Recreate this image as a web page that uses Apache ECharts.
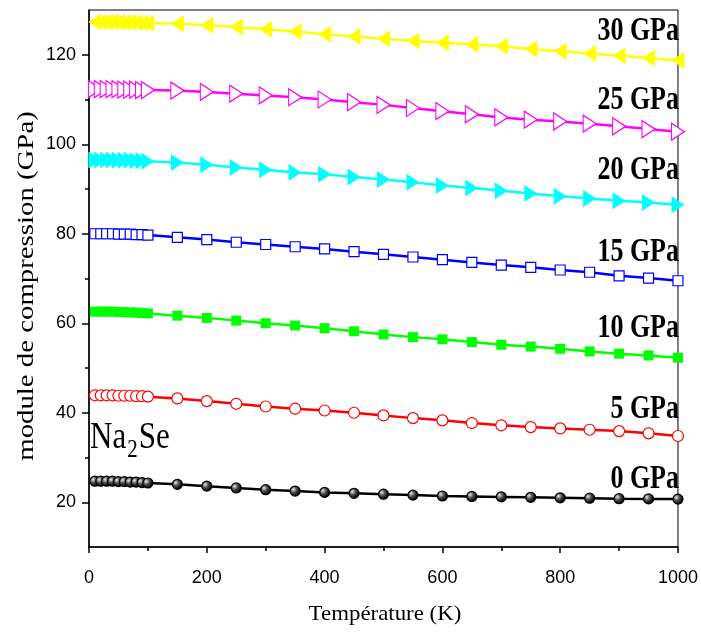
<!DOCTYPE html>
<html>
<head>
<meta charset="utf-8">
<script src="https://cdn.jsdelivr.net/npm/echarts@6/dist/echarts.min.js"></script>
<style>
  html, body { margin: 0; padding: 0; background: #fff; }
  #main { width: 701px; height: 636px; }
</style>
</head>
<body>
<div id="main"></div>
<script type="text/javascript">
    // temperatures (K)
    var temps = [10, 20, 30, 40, 50, 60, 70, 80, 90, 100,
                 150, 200, 250, 300, 350, 400, 450, 500, 550, 600,
                 650, 700, 750, 800, 850, 900, 950, 1000];

    var pressureNames = ['0 GPa', '5 GPa', '10 GPa', '15 GPa', '20 GPa', '25 GPa', '30 GPa'];

    // module de compression (GPa)
    var b0 = [24.7, 24.7, 24.7, 24.7, 24.6, 24.6, 24.5, 24.5, 24.4, 24.3,
              24.0, 23.6, 23.2, 22.8, 22.5, 22.2, 22.0, 21.8, 21.6, 21.4,
              21.3, 21.2, 21.1, 21.0, 20.9, 20.8, 20.75, 20.7];
    var b5 = [43.9, 43.9, 43.9, 43.9, 43.8, 43.8, 43.8, 43.7, 43.7, 43.6,
              43.2, 42.6, 42.0, 41.4, 40.9, 40.5, 40.0, 39.4, 38.8, 38.3,
              37.7, 37.2, 36.8, 36.5, 36.2, 35.9, 35.4, 34.8];
    var b10 = [62.6, 62.6, 62.6, 62.6, 62.5, 62.5, 62.4, 62.4, 62.3, 62.2,
               61.7, 61.2, 60.6, 60.0, 59.5, 58.9, 58.2, 57.5, 56.9, 56.4,
               55.8, 55.2, 54.8, 54.3, 53.7, 53.2, 52.8, 52.3];
    var b15 = [80.0, 80.0, 80.0, 80.0, 79.9, 79.9, 79.9, 79.8, 79.8, 79.7,
               79.2, 78.7, 78.1, 77.6, 77.1, 76.6, 76.0, 75.4, 74.8, 74.2,
               73.6, 73.0, 72.5, 71.9, 71.4, 70.6, 70.1, 69.5];
    var b20 = [96.5, 96.5, 96.5, 96.5, 96.4, 96.4, 96.4, 96.3, 96.3, 96.2,
               95.9, 95.4, 94.8, 94.3, 93.7, 93.3, 92.7, 92.1, 91.5, 90.8,
               90.2, 89.6, 89.0, 88.4, 87.9, 87.4, 87.0, 86.5];
    var b25 = [112.3, 112.3, 112.3, 112.3, 112.3, 112.2, 112.2, 112.2, 112.1, 112.1,
               112.0, 111.7, 111.3, 110.9, 110.5, 110.0, 109.4, 108.8, 108.1, 107.4,
               106.7, 106.0, 105.5, 105.1, 104.6, 104.0, 103.4, 102.8];
    var b30 = [127.3, 127.3, 127.3, 127.3, 127.3, 127.2, 127.2, 127.2, 127.1, 127.1,
               126.9, 126.6, 126.2, 125.7, 125.2, 124.6, 124.1, 123.6, 123.1, 122.7,
               122.3, 121.9, 121.3, 120.8, 120.3, 119.8, 119.3, 118.7];

    var yMajor = [20, 40, 60, 80, 100, 120];
    var yMinor = [30, 50, 70, 90, 110];

    function pairs(vals){
        var out = [];
        for (var i = 0; i < temps.length; i++) out.push([temps[i], vals[i]]);
        return out;
    }

    var sphere = new echarts.graphic.RadialGradient(0.35, 0.35, 0.6, [
        {offset: 0, color: '#e8e8e8'},
        {offset: 0.45, color: '#555'},
        {offset: 1, color: '#000'}
    ]);

    function makeSeries(name, vals, color, symbol, size, filled, rotate){
        return {
            name: name,
            type: 'line',
            data: pairs(vals),
            symbol: symbol,
            symbolSize: size,
            symbolRotate: rotate || 0,
            showAllSymbol: true,
            clip: true,
            lineStyle: {color: color, width: 2.5},
            itemStyle: {
                color: filled === true ? color : (filled || '#fff'),
                borderColor: color,
                borderWidth: filled === true ? 0 : 1.2
            }
        };
    }

    var serif = 'Liberation Serif, Times New Roman, serif';
    var sans = 'Liberation Sans, Arial, sans-serif';

    // vertical centre of each pressure label, in px
    var labelY = [479, 409, 328, 252, 170, 100, 31];

    var graphics = [];
    for (var k = 0; k < pressureNames.length; k++){
        graphics.push({
            type: 'text', x: 679, y: labelY[k], scaleY: 1.27,
            style: {text: pressureNames[k], font: 'bold 26px ' + serif, fill: '#000',
                    align: 'right', verticalAlign: 'middle'}
        });
    }
    graphics.push({
        type: 'text', x: 90, y: 438, scaleY: 1.2,
        style: {
            text: 'Na{s|2}Se',
            rich: {s: {fontSize: 21, fontFamily: serif, padding: [20, 1, 0, 1]}},
            font: '31px ' + serif, fill: '#000', align: 'left', verticalAlign: 'middle'
        }
    });
    // axis titles
    graphics.push({
        type: 'text', x: 27, y: 286, rotation: Math.PI / 2, scaleX: 1.2,
        style: {text: 'module de compression (GPa)', font: '24px ' + serif, fill: '#000',
                align: 'center', verticalAlign: 'middle'}
    });
    graphics.push({
        type: 'text', x: 385, y: 614, scaleX: 1.04,
        style: {text: 'Température (K)', font: '22px ' + serif, fill: '#000',
                align: 'center', verticalAlign: 'middle'}
    });

    var myChart = echarts.init(document.getElementById('main'));
    var myOption = {
        animation: false,
        grid: {left: 89, right: 21, top: 10, bottom: 89, show: true, borderColor: '#000', borderWidth: 1},
        xAxis: {
            type: 'value', min: 0, max: 1000, interval: 200,
            axisLine: {lineStyle: {color: '#000', width: 1.5}},
            axisTick: {length: 6, lineStyle: {color: '#000', width: 1.5}},
            minorTick: {show: true, splitNumber: 2, length: 4, lineStyle: {color: '#000', width: 1.5}},
            axisLabel: {fontFamily: sans, fontSize: 18, color: '#000', margin: 22,
                        formatter: function(v){ return String(v); }},
            splitLine: {show: false}
        },
        yAxis: [{
            type: 'value', min: 10, max: 130, interval: 10,
            axisLine: {lineStyle: {color: '#000', width: 1.5}},
            axisTick: {length: 7, customValues: yMajor, lineStyle: {color: '#000', width: 1.5}},
            axisLabel: {fontFamily: sans, fontSize: 18, color: '#000', margin: 13, customValues: yMajor},
            splitLine: {show: false}
        }, {
            type: 'value', min: 10, max: 130, interval: 10, position: 'left',
            axisLine: {show: false},
            axisTick: {length: 4, customValues: yMinor, lineStyle: {color: '#000', width: 1.5}},
            axisLabel: {show: false},
            splitLine: {show: false}
        }],
        graphic: graphics,
        series: [
            makeSeries('0 GPa', b0, '#000000', 'circle', 10, sphere),
            makeSeries('5 GPa', b5, '#ff0000', 'circle', 11, false),
            makeSeries('10 GPa', b10, '#00ff00', 'rect', 10, true),
            makeSeries('15 GPa', b15, '#0000ff', 'rect', 10, false),
            makeSeries('20 GPa', b20, '#00ffff', 'triangle', [17, 13], true, -90),
            makeSeries('25 GPa', b25, '#ff00ff', 'triangle', [17, 13], false, -90),
            makeSeries('30 GPa', b30, '#ffff00', 'triangle', [17, 13], true, 90)
        ]
    };
    myChart.setOption(myOption);
</script>
</body>
</html>
